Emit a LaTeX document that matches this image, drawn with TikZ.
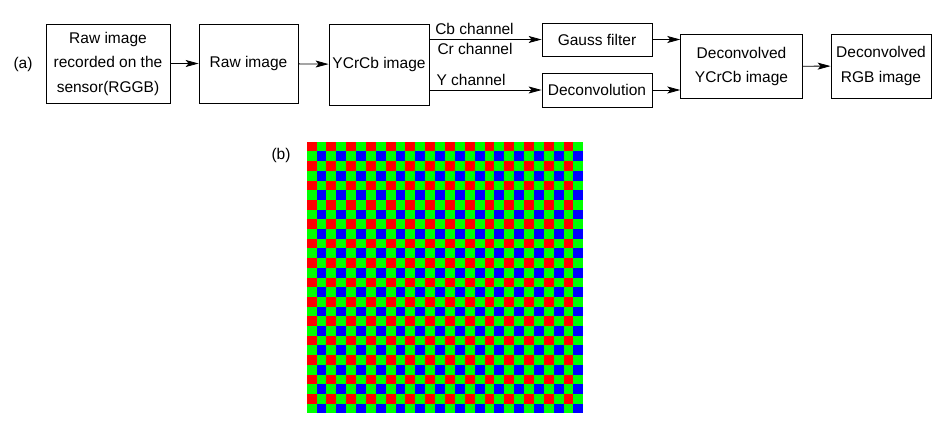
\documentclass[tikz,border=0pt]{standalone}
\usepackage{fontspec}
\setmainfont{Liberation Sans}
\usetikzlibrary{arrows.meta}
\definecolor{bred}{RGB}{255,0,0}
\definecolor{bgreen}{RGB}{0,255,0}
\definecolor{bblue}{RGB}{0,0,255}
\begin{document}
\begin{tikzpicture}[x=1bp,y=-1bp,
 box/.style={draw, line width=0.8bp, inner sep=0pt, align=center, font=\fontsize{15.5bp}{24.5bp}\selectfont},
 lbl/.style={inner sep=0pt, font=\fontsize{15.5bp}{24.5bp}\selectfont},
 arr/.style={-{Stealth[length=13bp,width=7bp,inset=3bp]}, line width=0.8bp}]
\useasboundingbox (0,0) rectangle (948,430);
% flow chart
\node[box, minimum width=124bp, minimum height=79bp] (raw0) at (108,63.5) {Raw image\\recorded on the\\sensor(RGGB)};
\node[box, minimum width=99bp, minimum height=79bp] (raw) at (248.5,63.5) {Raw image};
\node[box, minimum width=100bp, minimum height=81bp] (ycc) at (379,64.5) {YCrCb image};
\node[box, minimum width=110bp, minimum height=33bp] (gauss) at (597,39.5) {Gauss filter};
\node[box, minimum width=110bp, minimum height=34bp] (decon) at (597,90) {Deconvolution};
\node[box, minimum width=121.6bp, minimum height=64bp] (dyc) at (741.5,66.3) {Deconvolved\\YCrCb image};
\node[box, minimum width=100bp, minimum height=64bp] (rgb) at (881,66) {Deconvolved\\RGB image};
\node[lbl] (la) at (23,64) {(a)};
\node[lbl] (lb) at (281,155) {(b)};
\node[lbl] (cb) at (474.5,29) {Cb channel};
\node[lbl] (cr) at (475,49) {Cr channel};
\node[lbl] (yc) at (471,80) {Y channel};
\draw[arr] (raw0) -- (raw);
\draw[arr] (raw) -- (ycc);
\draw[arr] (gauss.west -| ycc.east) -- (gauss.west);
\draw[arr] (decon.west -| ycc.east) -- (decon.west);
\draw[arr] (gauss.east) -- (gauss.east -| dyc.west);
\draw[arr] (decon.east) -- (decon.east -| dyc.west);
\draw[arr] (dyc) -- (rgb);
% Bayer pattern
\fill[bgreen] (306.7,141.7) rectangle (583.3,413.3);
\foreach \i in {0,2,...,26} \foreach \j in {0,2,...,26}
  \fill[bred] (306.7+\j*9.879, 141.7+\i*9.7) rectangle ++(9.879,9.7);
\foreach \i in {1,3,...,27} \foreach \j in {1,3,...,27}
  \fill[bblue] (306.7+\j*9.879, 141.7+\i*9.7) rectangle ++(9.879,9.7);
\end{tikzpicture}
\end{document}
